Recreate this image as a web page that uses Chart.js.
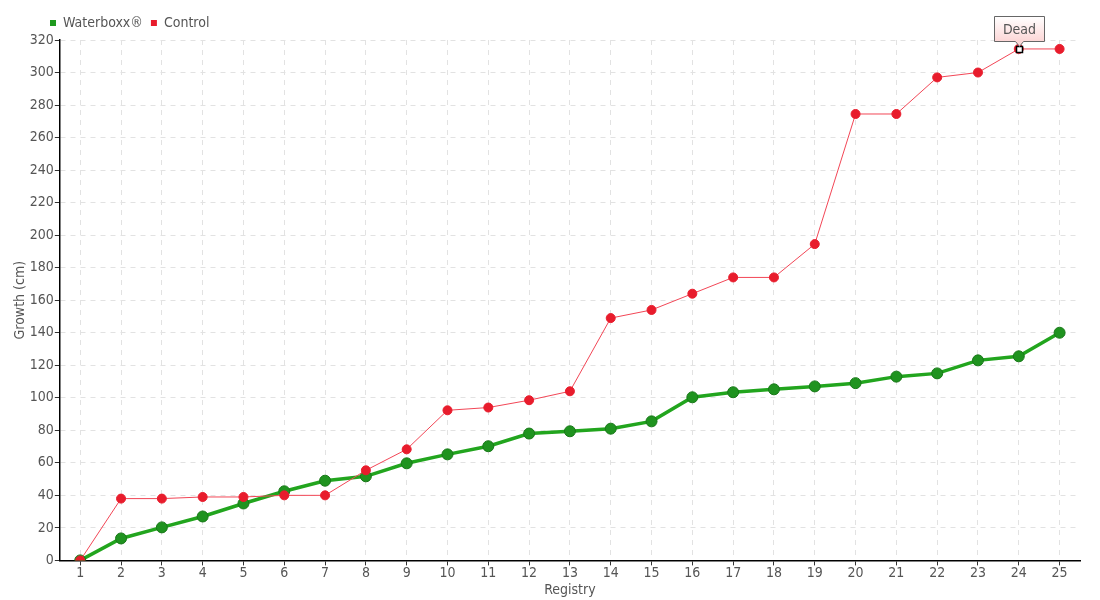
<!DOCTYPE html>
<html>
<head>
    <meta charset="utf-8">
    <title>Waterboxx growth</title>
    <script src="https://cdn.jsdelivr.net/npm/chart.js@4.4.0/dist/chart.umd.min.js"></script>
    <style>
        body { margin: 0; background: #fff; }
        #wrap { width: 1100px; height: 600px; }
    </style>
</head>
<body>
    <div id="wrap"><canvas id="myChart"></canvas></div>

    <script>
        var LABELS = ['1','2','3','4','5','6','7','8','9','10','11','12','13','14','15','16','17','18','19','20','21','22','23','24','25'];
        var WATERBOXX = [0, 13.5, 20.3, 27, 35, 42.5, 49, 51.7, 59.7, 65.2, 70.2, 78, 79.4, 81, 85.5, 100.3, 103.4, 105.2, 107, 109, 113, 115, 123, 125.5, 140];
        var CONTROL = [0, 38, 38, 39, 39, 40, 40, 55.4, 68.3, 92.3, 94, 98.5, 104, 149, 154, 164, 174, 174, 194.5, 274.5, 274.5, 297, 300, 314.5, 314.5];
        var DEAD_INDEX = 23;
        var DEAD_TEXT = 'Dead';

        var FONT = '"DejaVu Sans Condensed", "DejaVu Sans", sans-serif';
        Chart.defaults.font.family = FONT;
        Chart.defaults.font.size = 14;
        Chart.defaults.color = '#555';

        // note box above the dead control plant
        var deadNote = {
            id: 'deadNote',
            afterLayout: function(chart) {
                // legend sits a bit to the right, over the axis
                chart.legend.left += 30;
            },
            afterDatasetsDraw: function(chart) {
                var pt = chart.getDatasetMeta(1).data[DEAD_INDEX];
                if (!pt) return;
                var ctx = chart.ctx;
                var x = Math.round(pt.x) + 0.5, y = Math.round(pt.y) + 0.5;
                ctx.save();
                // white square marker
                ctx.fillStyle = '#fff';
                ctx.strokeStyle = '#000';
                ctx.lineWidth = 1.5;
                ctx.fillRect(x - 3, y - 3, 6, 6);
                ctx.strokeRect(x - 3, y - 3, 6, 6);
                // box
                var w = 50, h = 25, bx = x - 25, by = y - 33;
                var g = ctx.createLinearGradient(0, by, 0, by + h);
                g.addColorStop(0, '#fff');
                g.addColorStop(1, '#fcd6d6');
                ctx.fillStyle = g;
                ctx.strokeStyle = '#666';
                ctx.lineWidth = 1;
                ctx.beginPath();
                ctx.moveTo(bx, by);
                ctx.lineTo(bx + w, by);
                ctx.lineTo(bx + w, by + h);
                ctx.lineTo(x + 4, by + h);
                ctx.lineTo(x, by + h + 5);
                ctx.lineTo(x - 4, by + h);
                ctx.lineTo(bx, by + h);
                ctx.closePath();
                ctx.fill();
                ctx.stroke();
                ctx.fillStyle = '#555';
                ctx.font = '14px ' + FONT;
                ctx.textAlign = 'center';
                ctx.textBaseline = 'middle';
                ctx.fillText(DEAD_TEXT, x, by + h / 2 + 1);
                ctx.restore();
            }
        };

        var ctx = document.getElementById('myChart').getContext('2d');
        var myChart = new Chart(ctx, {
            type: 'line',
            data: {
                labels: LABELS,
                datasets: [{
                    label: 'Waterboxx®',
                    data: WATERBOXX,
                    borderColor: '#22a51e',
                    backgroundColor: '#1e9a1e',
                    pointBackgroundColor: '#1f931f',
                    pointBorderColor: '#187818',
                    pointBorderWidth: 1,
                    borderWidth: 3.5,
                    pointRadius: 5.5,
                    tension: 0,
                    order: 2
                }, {
                    label: 'Control',
                    data: CONTROL,
                    borderColor: '#f24656',
                    backgroundColor: '#e81c2c',
                    pointBackgroundColor: '#e81c2c',
                    pointBorderColor: '#e81c2c',
                    borderWidth: 1,
                    pointRadius: 4.5,
                    tension: 0,
                    order: 1
                }]
            },
            options: {
                responsive: true,
                maintainAspectRatio: false,
                animation: false,
                layout: { padding: { left: 12, right: 20, top: 8, bottom: 1 } },
                plugins: {
                    legend: {
                        align: 'start',
                        labels: {
                            boxWidth: 6,
                            boxHeight: 6,
                            padding: 8,
                            color: '#555',
                            font: { size: 14 },
                            generateLabels: function(chart) {
                                return chart.data.datasets.map(function(ds, i) {
                                    return {
                                        text: ds.label,
                                        fillStyle: ds.backgroundColor,
                                        strokeStyle: ds.backgroundColor,
                                        lineWidth: 0,
                                        fontColor: '#555',
                                        hidden: !chart.isDatasetVisible(i),
                                        datasetIndex: i
                                    };
                                });
                            }
                        }
                    },
                    tooltip: { enabled: false }
                },
                scales: {
                    x: {
                        offset: true,
                        grid: {
                            color: '#e2e2e2',
                            tickColor: '#333',
                            tickLength: 5,
                            offset: false
                        },
                        border: { color: '#000', width: 1.5, dash: [5, 5] },
                        ticks: { color: '#555', padding: 0, maxRotation: 0, font: { size: 14 } },
                        title: { display: true, text: 'Registry', color: '#555', padding: 0, font: { size: 14 } }
                    },
                    y: {
                        min: 0,
                        max: 320,
                        grid: {
                            color: '#e2e2e2',
                            tickColor: '#333',
                            tickLength: 5
                        },
                        border: { color: '#000', width: 1.5, dash: [5, 5] },
                        ticks: { stepSize: 20, color: '#555', padding: 1, font: { size: 14 } },
                        title: { display: true, text: 'Growth (cm)', color: '#555', padding: 0, font: { size: 14 } }
                    }
                }
            },
            plugins: [deadNote]
        });
    </script>
</body>
</html>
